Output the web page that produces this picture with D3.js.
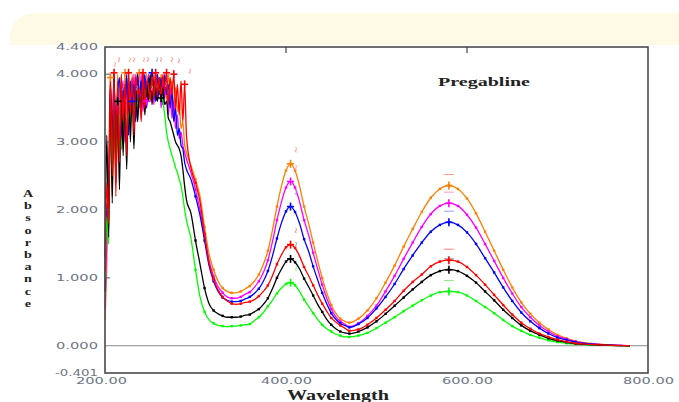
<!DOCTYPE html>
<html><head><meta charset="utf-8">
<script src="https://cdn.jsdelivr.net/npm/d3@7/dist/d3.min.js"></script>
<style>html,body{margin:0;padding:0;background:#fff;}svg{display:block;}</style>
</head><body><svg id="c" width="679" height="402"></svg>
<script>
// ---------- DATA ----------
const wavelengths = [200,202,204,206,208,210,212,214,216,218,220,222,224,226,228,230,232,234,236,238,240,242,244,246,248,250,252,254,256,258,260,262,264,266,268,270,272,274,276,278,280,282,284,286,288,290,
295,300,305,310,315,320,325,330,335,340,345,350,355,360,365,370,375,380,385,390,395,400,405,410,415,420,425,430,435,440,445,450,455,460,465,
470,480,490,500,510,520,530,540,550,560,570,580,590,600,610,620,630,640,650,660,670,680,690,700,710,720,730,740,750,760,770,780];

const orange = [0.38,1.2,2.6,3.95,2.2,3.9,2.9,4.0,3.1,3.98,2.95,4.02,3.4,3.9,3.2,4.0,3.5,3.95,3.6,4.02,3.55,3.9,3.75,4.0,3.6,3.98,3.7,4.02,3.8,3.92,3.7,4.0,3.85,3.95,3.6,4.0,3.75,3.9,3.5,3.8,3.45,3.6,3.2,3.3,2.95,2.85,
2.65,2.45,2.20,1.75,1.35,1.12,0.95,0.85,0.80,0.78,0.78,0.80,0.84,0.88,0.95,1.05,1.20,1.40,1.70,2.05,2.35,2.58,2.68,2.58,2.35,2.05,1.80,1.52,1.25,1.00,0.78,0.60,0.48,0.40,0.36,
0.34,0.40,0.52,0.70,0.93,1.18,1.46,1.72,1.97,2.18,2.31,2.36,2.31,2.17,1.95,1.68,1.40,1.12,0.86,0.64,0.47,0.34,0.24,0.16,0.11,0.07,0.045,0.03,0.02,0.01,0.005,0.0];

const magenta = [0.55,1.6,2.3,3.7,2.9,4.0,2.6,3.8,3.2,3.6,3.9,3.0,3.95,3.3,3.85,3.4,4.0,3.35,3.9,3.5,4.0,3.45,3.95,3.6,4.0,3.7,3.9,3.55,4.0,3.6,3.95,3.5,3.85,3.65,3.9,3.4,3.8,3.35,3.6,3.2,3.4,3.05,3.15,2.95,2.85,2.75,
2.55,2.30,2.00,1.62,1.25,1.02,0.87,0.78,0.72,0.70,0.70,0.72,0.76,0.79,0.86,0.95,1.08,1.26,1.53,1.85,2.12,2.33,2.42,2.33,2.12,1.85,1.63,1.37,1.13,0.90,0.70,0.54,0.43,0.36,0.32,
0.28,0.33,0.44,0.59,0.80,1.03,1.28,1.52,1.75,1.94,2.06,2.10,2.06,1.93,1.74,1.50,1.25,1.00,0.77,0.57,0.42,0.30,0.21,0.14,0.10,0.06,0.04,0.027,0.018,0.009,0.004,0.0];

const blue = [0.8,2.1,2.0,3.85,3.0,4.02,2.7,3.7,3.95,2.9,3.8,3.5,4.0,3.1,3.9,3.6,3.85,3.3,4.02,3.65,3.9,3.7,4.0,3.5,3.95,3.75,4.02,3.8,3.6,4.0,3.7,3.95,3.55,4.0,3.7,3.85,3.5,3.75,3.3,3.5,3.1,3.2,2.95,2.9,2.7,2.6,
2.45,2.20,1.92,1.55,1.18,0.95,0.80,0.71,0.67,0.65,0.65,0.66,0.69,0.72,0.77,0.84,0.95,1.10,1.32,1.58,1.81,1.98,2.05,1.97,1.80,1.57,1.39,1.17,0.97,0.78,0.62,0.48,0.39,0.33,0.30,
0.27,0.32,0.41,0.55,0.72,0.91,1.13,1.33,1.52,1.68,1.78,1.82,1.78,1.67,1.50,1.29,1.08,0.86,0.66,0.49,0.36,0.26,0.18,0.12,0.085,0.054,0.035,0.023,0.015,0.008,0.004,0.0];

const red = [1.1,2.4,1.8,4.0,2.5,4.02,2.2,3.9,2.7,4.0,3.3,3.85,2.8,4.02,3.4,3.95,3.1,4.0,3.7,3.8,3.3,4.02,3.5,3.9,3.85,3.6,4.0,3.65,4.02,3.7,3.95,3.6,4.0,3.75,4.02,3.55,3.95,3.7,4.0,3.5,3.85,3.4,3.9,3.3,3.85,3.1,
2.62,2.40,2.12,1.65,1.22,0.98,0.82,0.72,0.66,0.62,0.61,0.62,0.64,0.65,0.68,0.73,0.80,0.89,1.03,1.20,1.34,1.45,1.49,1.44,1.32,1.16,1.03,0.89,0.75,0.62,0.51,0.41,0.35,0.30,0.26,
0.22,0.24,0.31,0.41,0.53,0.66,0.81,0.94,1.05,1.17,1.24,1.26,1.24,1.16,1.04,0.90,0.75,0.60,0.46,0.34,0.25,0.18,0.13,0.09,0.06,0.037,0.024,0.016,0.011,0.005,0.003,0.0];

const black = [1.3,3.1,1.6,3.9,2.1,4.0,2.4,3.6,2.3,3.95,2.8,3.7,2.6,4.0,3.0,3.8,2.9,3.95,3.3,3.7,3.5,4.0,3.4,3.85,3.6,4.0,3.55,3.9,3.7,3.6,3.95,3.65,3.8,3.55,3.6,3.35,3.3,3.2,3.1,3.0,2.95,2.9,2.8,2.6,2.35,2.15,
1.95,1.55,1.20,0.85,0.62,0.52,0.47,0.44,0.42,0.42,0.42,0.43,0.45,0.46,0.50,0.54,0.61,0.70,0.84,1.00,1.13,1.24,1.28,1.23,1.13,0.99,0.87,0.74,0.61,0.50,0.39,0.31,0.25,0.21,0.19,
0.18,0.21,0.27,0.36,0.47,0.59,0.71,0.83,0.94,1.04,1.10,1.12,1.10,1.03,0.93,0.80,0.67,0.53,0.41,0.30,0.22,0.16,0.11,0.076,0.052,0.033,0.021,0.014,0.01,0.005,0.002,0.0];

const green = [1.0,1.9,1.5,3.3,2.4,3.6,2.7,3.0,3.4,2.9,3.2,3.5,3.1,3.45,3.3,3.55,3.4,3.6,3.5,3.65,3.6,3.7,3.72,3.78,3.75,3.82,3.8,3.85,3.82,3.8,3.78,3.72,3.6,3.4,3.15,3.0,2.9,2.8,2.72,2.62,2.55,2.45,2.36,2.2,2.0,1.85,
1.58,1.12,0.72,0.50,0.38,0.33,0.30,0.29,0.28,0.29,0.29,0.30,0.31,0.32,0.37,0.42,0.49,0.58,0.67,0.77,0.85,0.91,0.93,0.89,0.80,0.68,0.58,0.48,0.39,0.31,0.25,0.21,0.17,0.15,0.13,
0.13,0.15,0.19,0.26,0.34,0.42,0.51,0.59,0.67,0.74,0.79,0.80,0.79,0.74,0.66,0.57,0.48,0.38,0.29,0.22,0.16,0.12,0.08,0.054,0.037,0.024,0.015,0.01,0.007,0.003,0.001,0.0];

const seriesNames  = ["orange","magenta","blue","green","black","red"];
const seriesValues = [orange, magenta, blue, green, black, red];
const seriesColors = ["#ff7f00","#ff00ff","#0000ff","#00ff00","#000000","#ff0000"];
const labelColors  = ["#ff9a8a","#ff99cc","#8fa0ff","#88ee88","#999999","#ff8080"];

const peakWavelengths = [405, 580];
const topPeakWl     = [206,210,214,222,226,230,238,242,246,252,256,262,268,276,288];
const topPeakSeries = [0,5,4,0,5,2,0,5,1,2,5,4,5,5,5];

const xTickValues = [200,400,600,800];
const xTickLabels = ["200.00","400.00","600.00","800.00"];
const yTickValues = [-0.401,0,1,2,3,4,4.4];
const yTickLabels = ["-0.401","0.000","1.000","2.000","3.000","4.000","4.400"];

const chartTitle = "Pregabline";
const xTitle = "Wavelength";
const yTitle = "Absorbance";

// ---------- DRAW ----------
const svg = d3.select("#c");
const L = 105, R = 648, T = 47, B = 373;
const x = d3.scaleLinear().domain([200,800]).range([L,R]);
const y = d3.scaleLinear().domain([-0.401,4.4]).range([B,T]);

// pale yellow header band
svg.append("rect").attr("x",10).attr("y",13).attr("width",700).attr("height",80)
  .attr("rx",24).attr("fill","#fffae6");
svg.append("rect").attr("x",0).attr("y",45).attr("width",679).attr("height",360).attr("fill","#fff");

// zero line
svg.append("line").attr("x1",x(200)).attr("x2",x(800)).attr("y1",y(0)).attr("y2",y(0))
  .attr("stroke","#8a8a8a").attr("stroke-width",1.2);

// lines
const line = d3.line().x((d,i)=>x(wavelengths[i])).y(d=>y(d)).curve(d3.curveMonotoneX);
const g = svg.append("g");
seriesValues.forEach((vals,k)=>{
  g.append("path").datum(vals).attr("d",line).attr("fill","none")
   .attr("stroke",seriesColors[k]).attr("stroke-width",1.3).attr("stroke-linejoin","round");
  g.selectAll(null).data(wavelengths.map((w,i)=>({w,v:vals[i]})).filter(d=>d.w>=300 && d.w<=720 && d.w%10===0))
   .enter().append("rect").attr("x",d=>x(d.w)-1.2).attr("y",d=>y(d.v)-1.2)
   .attr("width",2.4).attr("height",2.4).attr("fill",seriesColors[k]);
});

// peak markers
function plus(gx,cx,cy,col){
  gx.append("line").attr("x1",cx-3.5).attr("x2",cx+3.5).attr("y1",cy).attr("y2",cy).attr("stroke",col).attr("stroke-width",1.6);
  gx.append("line").attr("x1",cx).attr("x2",cx).attr("y1",cy-4).attr("y2",cy+4).attr("stroke",col).attr("stroke-width",1.6);
}
const pk = svg.append("g");
seriesValues.forEach((vals,k)=>{
  peakWavelengths.forEach((pw,j)=>{
    const i = wavelengths.indexOf(pw);
    const cx = x(pw), cy = y(vals[i]);
    plus(pk,cx,cy,seriesColors[k]);
    if(j===0){
      pk.append("text").attr("transform",`translate(${cx+2},${cy-14}) rotate(90)`)
        .attr("font-size",9).attr("font-family","DejaVu Sans").attr("fill",labelColors[k])
        .attr("text-anchor","middle").text("~");
    } else {
      pk.append("line").attr("x1",cx-5).attr("x2",cx+5).attr("y1",cy-11).attr("y2",cy-11)
        .attr("stroke",labelColors[k]).attr("stroke-width",1);
    }
  });
});
topPeakWl.forEach((w,j)=>{
  const k = topPeakSeries[j];
  const i = wavelengths.indexOf(w);
  const cx = x(w), cy = y(seriesValues[k][i]);
  plus(pk,cx,cy,seriesColors[k]);
  pk.append("text").attr("transform",`translate(${cx+2},${cy-13}) rotate(90)`)
    .attr("font-size",8).attr("font-family","DejaVu Sans").attr("fill",labelColors[k])
    .attr("text-anchor","middle").text("~");
});

// frame
svg.append("rect").attr("x",L).attr("y",T).attr("width",R-L).attr("height",B-T)
  .attr("fill","none").attr("stroke","#4a4a4a").attr("stroke-width",1.6);

// axes
const tickFont = "DejaVu Sans", tickCol = "#6c7684";
const yAxis = d3.axisLeft(y).tickValues(yTickValues).tickFormat((d,i)=>yTickLabels[i]).tickSizeInner(0).tickSizeOuter(0).tickPadding(7);
const ya = svg.append("g").attr("transform",`translate(${L},0)`).call(yAxis);
ya.select(".domain").remove();
ya.selectAll("text").attr("font-family",tickFont).attr("font-size",8.5).attr("fill",tickCol)
  .attr("textLength",d=>d<0?43:42).attr("lengthAdjust","spacingAndGlyphs");
svg.append("g").selectAll("line").data(yTickValues.filter(v=>v>0.5 && v<4.2)).enter().append("line")
  .attr("x1",L).attr("x2",L+5).attr("y1",d=>y(d)).attr("y2",d=>y(d)).attr("stroke","#555").attr("stroke-width",1);

const xAxis = d3.axisBottom(x).tickValues(xTickValues).tickFormat((d,i)=>xTickLabels[i]).tickSizeInner(0).tickSizeOuter(0).tickPadding(5);
const xa = svg.append("g").attr("transform",`translate(0,${B})`).call(xAxis);
xa.select(".domain").remove();
xa.selectAll("text").attr("font-family",tickFont).attr("font-size",8.5).attr("fill",tickCol)
  .attr("textLength",51).attr("lengthAdjust","spacingAndGlyphs")
  .attr("dx",(d)=>d===200?-4:0);
svg.append("g").selectAll("line").data(xTickValues.filter(v=>v>200&&v<800)).enter().append("line")
  .attr("x1",d=>x(d)).attr("x2",d=>x(d)).attr("y1",T).attr("y2",T+6).attr("stroke","#444").attr("stroke-width",1.2);

// titles
svg.append("text").attr("x",484).attr("y",86).attr("font-family","Liberation Serif").attr("font-weight","bold")
  .attr("font-size",13.5).attr("fill","#222").attr("text-anchor","middle")
  .attr("textLength",92).attr("lengthAdjust","spacingAndGlyphs").text(chartTitle);
svg.append("text").attr("x",338).attr("y",400).attr("font-family","Liberation Serif").attr("font-weight","bold")
  .attr("font-size",14).attr("fill","#222").attr("text-anchor","middle")
  .attr("textLength",102).attr("lengthAdjust","spacingAndGlyphs").text(xTitle);
svg.append("g").selectAll("text").data(yTitle.split("")).enter().append("text")
  .attr("transform",(d,i)=>`translate(28,${197+i*12.2}) scale(1.35,1)`)
  .attr("font-family","Liberation Serif").attr("font-weight","bold")
  .attr("font-size",10.5).attr("fill","#222").attr("text-anchor","middle").text(d=>d);
</script></body></html>
